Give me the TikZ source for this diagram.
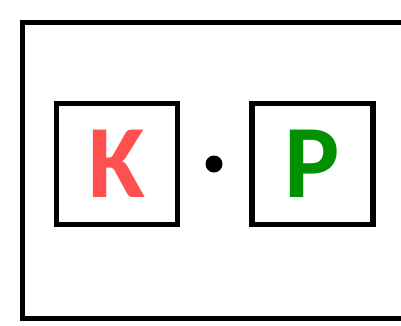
\documentclass[tikz,border=0pt]{standalone}
\usepackage{fontspec}
\setsansfont{Carlito}
\usepackage{tikz}
\usetikzlibrary{positioning}
\definecolor{rougek}{HTML}{FF5050}
\definecolor{vertp}{HTML}{009000}
\tikzset{
  cadre/.style={line width=5.5pt, draw=black},
  boite/.style={rectangle, draw=black, line width=5.5pt, minimum width=121pt,
    minimum height=121pt, inner sep=0pt, font=\sffamily\bfseries\fontsize{104}{104}\selectfont},
  point/.style={circle, fill=black, minimum size=17pt, inner sep=0pt},
}
\begin{document}
\begin{tikzpicture}[x=1pt, y=-1pt]
  \useasboundingbox (0,0) rectangle (401,325);
  % Cadre ouvert a droite
  \draw[cadre] (410,22.5) -- (22.5,22.5) -- (22.5,318.5) -- (410,318.5);
  % Facteurs
  \node[boite, text=rougek] (k) at (117,164) {K};
  \node[point] (mult) at (214,164) {};
  \node[boite, text=vertp] (p) at (312.5,164) {P};
\end{tikzpicture}
\end{document}
